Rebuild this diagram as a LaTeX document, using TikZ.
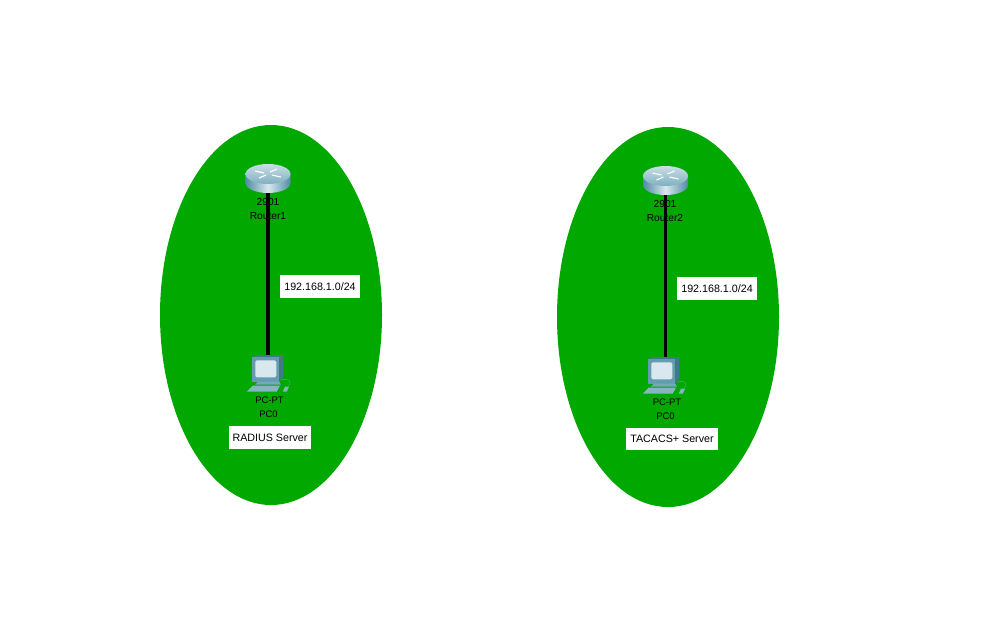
\documentclass[tikz,border=0pt]{standalone}
\usepackage{fontspec}
\setmainfont{Liberation Sans}
\definecolor{zonegreen}{HTML}{00A800}
\definecolor{icondark}{HTML}{4F8CA3}
\definecolor{iconmid}{HTML}{8FBBC9}
\definecolor{iconlight}{HTML}{D9E7EE}
\tikzset{
    x=1pt,y=-1pt,
    zone/.style={fill=zonegreen,draw=none},
    link/.style={draw=black,line width=3.6pt},
    devtext/.style={font=\fontsize{10.2}{12}\selectfont,inner sep=0pt,text=black},
    pctext/.style={font=\fontsize{9.5}{12}\selectfont,inner sep=0pt,text=black},
    notebox/.style={font=\fontsize{10.7}{12}\selectfont,inner sep=0pt,text=black,fill=white,minimum height=22.5pt,anchor=center},
    iconspot/.style={inner sep=0pt,minimum size=16pt},
    routericon/.pic={
        \shade[left color=icondark,right color=icondark,middle color=iconlight] (-22.5,-4) -- (-22.5,5) arc[start angle=180,end angle=0,x radius=22.5,y radius=10] -- (22.5,-4) -- cycle;
        \shade[top color=iconlight!80!iconmid,bottom color=iconmid!75!icondark] (0,-4) ellipse[x radius=22.5,y radius=10];
        \draw[white,line width=1.1pt] (-13,-7) -- (-4,-5) (13,-1) -- (4,-3) (-9,0) -- (-2,-3) (9,-9) -- (2,-6);
    },
    pcicon/.pic={
        \fill[icondark!85!black] (-15.7,-20.7) -- (-12,-23) -- (15.3,-23) -- (15.3,-0.7) -- (11.3,3.7) -- cycle;
        \fill[iconmid!35!icondark] (-15.7,-20.7) rectangle (11.3,3.7);
        \fill[iconlight,rounded corners=1.5pt] (-12.7,-17.7) rectangle (8.3,-0.7);
        \fill[iconmid!60!icondark] (-10,3.7) -- (11.3,3.7) -- (13,6.7) -- (-13,6.7) -- cycle;
        \fill[iconmid!85!icondark] (-21.3,13.7) -- (-15.3,7.7) -- (12,7.7) -- (8.7,13.7) -- cycle;
        \fill[iconmid!85!icondark] (14.7,13.7) -- (17,8.7) -- (21,8.7) -- (18.7,13.7) -- cycle;
        \draw[iconmid!35!zonegreen,line width=.7pt] (13,2) .. controls (20,0) and (25,3) .. (20,8);
    }
}
\begin{document}
\begin{tikzpicture}
        \useasboundingbox (0,0) rectangle (1008,630);
        \fill[zone] (271,315) ellipse[x radius=111,y radius=190];
        \fill[zone] (668,317) ellipse[x radius=111,y radius=190];
        \node[iconspot] (router1) at (268,178) {};
        \node[iconspot] (router2) at (665.5,180) {};
        \node[iconspot] (pc1) at (268,378) {};
        \node[iconspot] (pc2) at (665.5,380) {};
        \draw[link] (router1) -- (pc1);
        \draw[link] (router2) -- (pc2);
        \pic at (router1) {routericon};
        \pic at (router2) {routericon};
        \pic at (pc1) {pcicon};
        \pic at ([xshift=-1.5pt]pc2) {pcicon};
        \node[devtext] (model1) at (268,202) {2901};
        \node[devtext] (name1) at (268,216) {Router1};
        \node[devtext] (model2) at (665,204) {2901};
        \node[devtext] (name2) at (665,218) {Router2};
        \node[pctext] (pctype1) at (269.5,400) {PC-PT};
        \node[pctext] (pcname1) at (268.5,414) {PC0};
        \node[pctext] (pctype2) at (667,402) {PC-PT};
        \node[pctext] (pcname2) at (665.5,416) {PC0};
        \node[notebox,minimum width=80pt] (net1) at (320,286.5) {192.168.1.0/24};
        \node[notebox,minimum width=80pt] (net2) at (717,288.5) {192.168.1.0/24};
        \node[notebox,minimum width=82pt] (server1) at (270,437.5) {RADIUS Server};
        \node[notebox,minimum width=92pt] (server2) at (672,439) {TACACS+ Server};
\end{tikzpicture}
\end{document}
